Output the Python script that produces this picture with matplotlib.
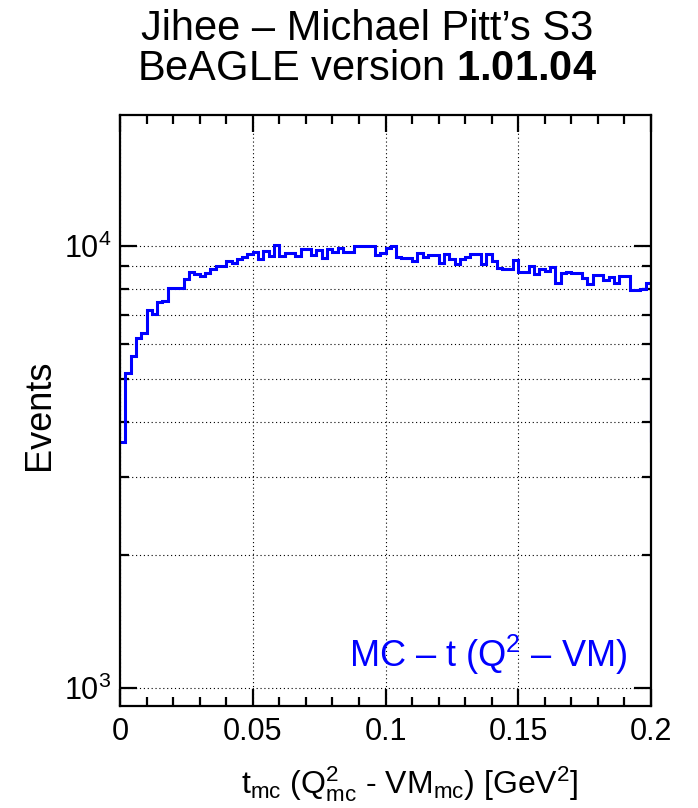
import numpy as np
import matplotlib
matplotlib.use("Agg")
import matplotlib.pyplot as plt
from matplotlib.ticker import FixedLocator, LogLocator, NullFormatter, FuncFormatter

plt.rcParams['font.family'] = ['Liberation Sans', 'DejaVu Sans']
plt.rcParams['mathtext.fontset'] = 'custom'
plt.rcParams['mathtext.rm'] = 'Liberation Sans'
plt.rcParams['mathtext.it'] = 'Liberation Sans'
plt.rcParams['mathtext.bf'] = 'Liberation Sans:bold'
plt.rcParams['mathtext.default'] = 'regular'

# histogram: 100 bins of t from 0 to 0.2 GeV^2 (counts)
bin_edges = np.linspace(0.0, 0.2, 101)
counts = [
    3600, 5150, 5640, 6200, 6345, 7160, 7010, 7460, 7510, 8050,
    8050, 8050, 8420, 8720, 8630, 8550, 8670, 8860, 9010, 9010,
    9250, 9170, 9330, 9460, 9590, 9680, 9360, 9750, 9500, 10050,
    9500, 9650, 9650, 9500, 9840, 9840, 9540, 9780, 9380, 9840,
    9720, 9890, 9680, 9680, 10000, 10000, 10000, 10000, 9540, 9650,
    9900, 10030, 9450, 9380, 9380, 9230, 9650, 9440, 9540, 9540,
    9150, 9600, 9360, 9100, 9360, 9430, 9600, 9600, 9120, 9600,
    9230, 8940, 8880, 8880, 9280, 8720, 8720, 9010, 8630, 8860,
    8800, 8975, 8235, 8670, 8750, 8670, 8670, 8450, 8200, 8600,
    8600, 8380, 8520, 8260, 8550, 8550, 7950, 7950, 8000, 8260,
]
start_level = 3600  # where the outline begins at the left edge

x_ticks = [0, 0.05, 0.1, 0.15, 0.2]
x_ticklabels = ['0', '0.05', '0.1', '0.15', '0.2']

fig = plt.figure(figsize=(6.98, 8.08), dpi=100)
ax = fig.add_axes([120 / 698, 1 - 706 / 808, 531 / 698, 591 / 808])

ax.stairs(counts, bin_edges, baseline=start_level, color='#0000ff', linewidth=2.2, zorder=2)

ax.set_yscale('log')
ax.set_xlim(0, 0.2)
ax.set_ylim(910, 19800)

ax.xaxis.set_major_locator(FixedLocator(x_ticks))
ax.xaxis.set_minor_locator(FixedLocator(np.arange(0, 0.2001, 0.01)))
ax.set_xticklabels(x_ticklabels)
ax.yaxis.set_major_locator(LogLocator(base=10, numticks=10))
ax.yaxis.set_minor_locator(LogLocator(base=10, subs=np.arange(2, 10), numticks=10))
ax.yaxis.set_minor_formatter(NullFormatter())
ax.yaxis.set_major_formatter(FuncFormatter(lambda v, p: r'$10^{%d}$' % round(np.log10(v))))

ax.tick_params(which='both', direction='in', top=True, right=True, width=1.6, colors='black')
ax.tick_params(which='major', length=12.5, labelsize=22, pad=6)
ax.tick_params(which='minor', length=6.5)
ax.tick_params(axis='x', which='major', pad=8)
for sp in ax.spines.values():
    sp.set_linewidth(1.6)
    sp.set_zorder(3)

ax.grid(True, which='major', axis='x', linestyle=(0, (1, 2.5)), color='black', linewidth=0.8)
ax.grid(True, which='both', axis='y', linestyle=(0, (1, 2.5)), color='black', linewidth=0.8)

ax.text(0.955, 0.086, 'MC – t (Q$^{2}$ – VM)', color='#0000ff', fontsize=26,
        ha='right', va='center', transform=ax.transAxes)

fig.text(40 / 698, 1 - 415 / 808, 'Events', rotation=90, fontsize=26, ha='center', va='center')
fig.text(410 / 698, 1 - 793 / 808, r'$t_{mc}\ (Q^{2}_{mc}$ - $VM_{mc})\ [GeV^{2}]$',
         fontsize=23, ha='center', va='baseline')

fig.text(0.526, 1 - 40 / 808, 'Jihee – Michael Pitt’s S3', fontsize=30, ha='center', va='baseline')
fig.text(0.526, 1 - 80 / 808, r'BeAGLE version $\mathbf{1.01.04}$', fontsize=30, ha='center', va='baseline')

fig.savefig('out.png', dpi=100)
